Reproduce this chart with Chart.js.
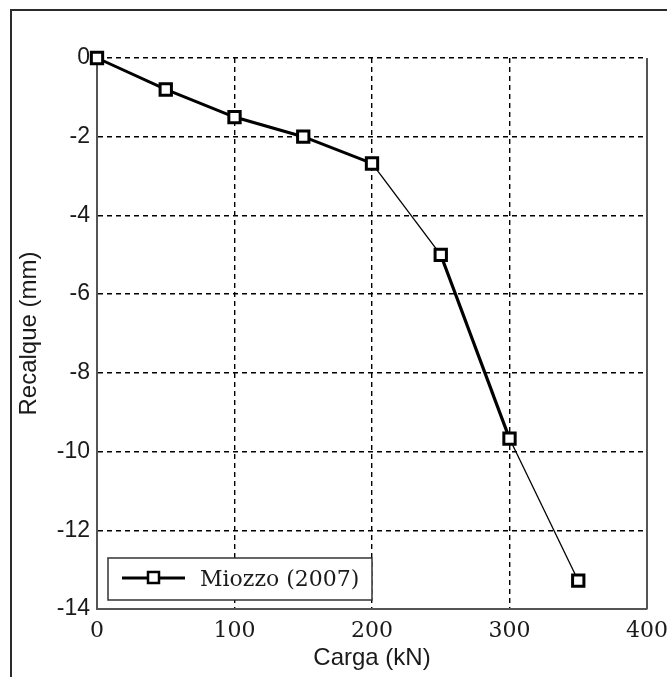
<!DOCTYPE html>
<html>
<head>
<meta charset="utf-8">
<script src="https://cdn.jsdelivr.net/npm/chart.js@4.4.1/dist/chart.umd.min.js"></script>
<style>
  html, body { margin: 0; padding: 0; background: #fff; overflow: hidden; }
  #wrap { position: relative; width: 667px; height: 677px; }
  #frame { position: absolute; left: 10px; top: 9px; width: 700px; height: 700px; border: 2px solid #2b2b2b; }
  canvas { position: absolute; left: 0; top: 0; }
</style>
</head>
<body>
<div id="wrap">
  <div id="frame"></div>
  <canvas id="recalqueChart" width="667" height="677"></canvas>
</div>
<script>
// carga x recalque
const carga = [0, 50, 100, 150, 200, 250, 300, 350];
const recalque = [0, -0.8, -1.5, -2.0, -2.68, -5.0, -9.67, -13.28];
const xTicks = [0, 100, 200, 300, 400];
const yTicks = [0, -2, -4, -6, -8, -10, -12, -14];
const serieLabel = 'Miozzo (2007)';

// espessura de cada trecho da curva
const trechoWidths = [3, 3, 3, 3, 1.3, 3.2, 1.3];

const dashedGrid = {
  color: '#000',
  lineWidth: 1.4,
  drawTicks: false
};

// borda direita do gráfico e legenda dentro da área
const frameAndLegend = {
  id: 'frameAndLegend',
  afterDraw(chart) {
    const { ctx, chartArea: a } = chart;
    ctx.save();
    ctx.strokeStyle = '#555';
    ctx.lineWidth = 2;
    ctx.beginPath();
    ctx.moveTo(a.right, a.top);
    ctx.lineTo(a.right, a.bottom);
    ctx.stroke();

    // legenda
    const bx = 108, by = 558, bw = 264, bh = 42;
    ctx.fillStyle = '#fff';
    ctx.fillRect(bx, by, bw, bh);
    ctx.strokeStyle = '#333';
    ctx.lineWidth = 1.5;
    ctx.strokeRect(bx, by, bw, bh);

    ctx.strokeStyle = '#000';
    ctx.lineWidth = 3;
    ctx.beginPath();
    ctx.moveTo(122, 578);
    ctx.lineTo(185, 578);
    ctx.stroke();
    ctx.fillStyle = '#fff';
    ctx.fillRect(148, 572, 11, 11);
    ctx.lineWidth = 2.5;
    ctx.strokeRect(148, 572, 11, 11);

    ctx.fillStyle = '#1a1a1a';
    ctx.font = '22px "DejaVu Serif"';
    ctx.textBaseline = 'middle';
    ctx.textAlign = 'left';
    ctx.fillText(serieLabel, 200, 580);
    ctx.restore();
  }
};

new Chart(document.getElementById('recalqueChart').getContext('2d'), {
  type: 'line',
  data: {
    datasets: [{
      label: serieLabel,
      data: carga.map((c, i) => ({ x: c, y: recalque[i] })),
      borderColor: '#000',
      borderWidth: 3,
      pointStyle: 'rect',
      pointRadius: 8,
      pointBorderWidth: 3,
      pointBackgroundColor: '#fff',
      pointBorderColor: '#000',
      tension: 0,
      clip: false,
      segment: {
        borderWidth: ctx => trechoWidths[ctx.p0DataIndex]
      }
    }]
  },
  options: {
    responsive: false,
    animation: false,
    layout: { padding: { left: 0, top: 58, right: 20, bottom: 0 } },
    plugins: {
      legend: { display: false },
      tooltip: { enabled: false }
    },
    scales: {
      x: {
        type: 'linear',
        min: 0,
        max: 400,
        afterBuildTicks: scale => { scale.ticks = xTicks.map(v => ({ value: v })); },
        afterFit: scale => {
          scale.height = 68;
          scale.paddingLeft = 0;
          scale.paddingRight = 0;
        },
        grid: { ...dashedGrid },
        border: { display: true, color: '#555', width: 2, dash: [5, 4] },
        ticks: {
          padding: 9,
          color: '#1a1a1a',
          font: { family: 'DejaVu Serif', size: 22 },
          maxRotation: 0
        },
        title: {
          display: true,
          text: 'Carga (kN)',
          color: '#1a1a1a',
          font: { family: 'Liberation Sans', size: 24 },
          padding: { top: 0, bottom: 4 }
        }
      },
      y: {
        type: 'linear',
        min: -14,
        max: 0,
        afterBuildTicks: scale => { scale.ticks = yTicks.map(v => ({ value: v })); },
        afterFit: scale => { scale.width = 97; },
        grid: { ...dashedGrid },
        border: { display: true, color: '#555', width: 2, dash: [5, 4] },
        ticks: {
          padding: 7,
          color: '#1a1a1a',
          font: { family: 'Liberation Sans', size: 23 }
        },
        title: {
          display: true,
          text: 'Recalque (mm)',
          color: '#1a1a1a',
          font: { family: 'Liberation Sans', size: 24 },
          padding: { top: 15, bottom: 0 }
        }
      }
    }
  },
  plugins: [frameAndLegend]
});
</script>
</body>
</html>
